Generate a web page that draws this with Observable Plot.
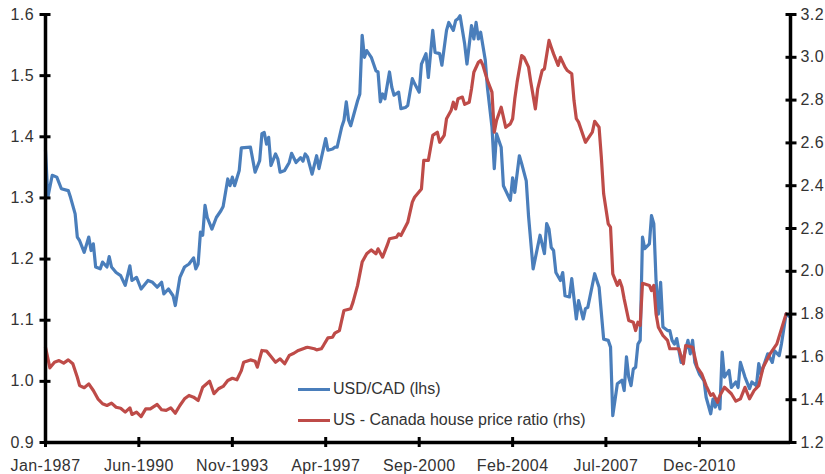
<!DOCTYPE html>
<html>
<head>
<meta charset="utf-8">
<script src="https://cdn.jsdelivr.net/npm/d3@7"></script>
<script src="https://cdn.jsdelivr.net/npm/@observablehq/plot@0.6"></script>
<style>
  body { margin: 0; background: #fff; }
  #wrap { position: relative; width: 825px; height: 474px; }
  .legend-item { position: absolute; display: flex; align-items: center; white-space: nowrap;
    font: 16px "Liberation Sans", Arial, sans-serif; color: #333; }
  .swatch { width: 32px; height: 3px; margin-right: 3px; }
</style>
</head>
<body>
<div id="wrap"></div>
<script>
// ---- Data ----
const usdcadDates = ["1987-01","1987-02","1987-04","1987-06","1987-08","1987-11","1987-12","1988-02","1988-03","1988-04",
"1988-06","1988-08","1988-09","1988-10","1988-11","1989-01","1989-02","1989-04","1989-05","1989-06",
"1989-08","1989-10","1989-12","1990-02","1990-03","1990-05","1990-07","1990-10","1990-12","1991-02",
"1991-04","1991-05","1991-07","1991-09","1991-10","1991-12","1992-02","1992-04","1992-06","1992-07",
"1992-08","1992-09","1992-10","1992-11","1992-12","1993-02","1993-04","1993-06","1993-07","1993-09",
"1993-10","1993-11","1993-12","1994-02","1994-03","1994-07","1994-09","1994-11","1994-12","1995-01",
"1995-02","1995-03","1995-04","1995-06","1995-07","1995-08","1995-10","1995-12","1996-01","1996-03",
"1996-05","1996-06","1996-07","1996-08","1996-10","1996-12","1997-01","1997-04","1997-05","1997-07",
"1997-08","1997-09","1997-11","1997-12","1998-01","1998-02","1998-03","1998-06","1998-07","1998-08",
"1998-09","1998-10","1998-12","1999-02","1999-03","1999-04","1999-05","1999-06","1999-08","1999-09",
"1999-10","1999-12","2000-01","2000-03","2000-04","2000-06","2000-07","2000-09","2000-10","2000-12",
"2001-01","2001-03","2001-04","2001-06","2001-07","2001-09","2001-10","2001-12","2002-01","2002-02",
"2002-03","2002-05","2002-06","2002-08","2002-09","2002-10","2002-11","2002-12","2003-02","2003-03",
"2003-05","2003-06","2003-07","2003-09","2003-10","2004-01","2004-02","2004-03","2004-05","2004-06",
"2004-08","2004-09","2004-11","2005-02","2005-04","2005-05","2005-06","2005-07","2005-08","2005-09",
"2005-11","2005-12","2006-01","2006-03","2006-04","2006-06","2006-07","2006-09","2006-10","2006-11",
"2007-02","2007-04","2007-06","2007-08","2007-09","2007-10","2007-12","2008-01","2008-02","2008-03",
"2008-04","2008-05","2008-06","2008-07","2008-08","2008-09","2008-10","2008-11","2008-12","2009-02",
"2009-03","2009-04","2009-05","2009-06","2009-07","2009-08","2009-10","2009-11","2009-12","2010-01",
"2010-02","2010-04","2010-05","2010-07","2010-08","2010-09","2010-10","2010-12","2011-02","2011-03",
"2011-05","2011-06","2011-07","2011-08","2011-09","2011-10","2011-11","2012-01","2012-02","2012-04",
"2012-05","2012-06","2012-08","2012-10","2012-11","2013-01","2013-02","2013-03","2013-06","2013-08",
"2013-09","2013-11","2013-12","2014-02","2014-04"];
const usdcadValues = [1.378,1.301,1.337,1.334,1.315,1.312,1.301,1.274,1.236,1.230,
1.211,1.236,1.214,1.225,1.187,1.184,1.195,1.187,1.204,1.187,
1.178,1.173,1.157,1.189,1.165,1.170,1.151,1.165,1.162,1.154,
1.162,1.143,1.151,1.140,1.124,1.170,1.187,1.192,1.202,1.184,
1.192,1.244,1.239,1.288,1.268,1.249,1.268,1.279,1.286,1.331,
1.320,1.334,1.320,1.345,1.382,1.383,1.342,1.361,1.405,1.407,
1.388,1.399,1.353,1.372,1.364,1.342,1.345,1.358,1.373,1.358,
1.366,1.360,1.372,1.367,1.339,1.369,1.348,1.397,1.378,1.380,
1.383,1.383,1.416,1.427,1.457,1.427,1.418,1.459,1.470,1.566,
1.530,1.541,1.530,1.508,1.506,1.457,1.470,1.462,1.506,1.481,
1.468,1.473,1.446,1.448,1.451,1.495,1.487,1.473,1.519,1.536,
1.497,1.574,1.538,1.536,1.517,1.574,1.587,1.574,1.590,1.593,
1.598,1.552,1.519,1.582,1.560,1.587,1.560,1.571,1.525,1.481,
1.416,1.348,1.405,1.383,1.320,1.296,1.333,1.309,1.369,1.356,
1.328,1.270,1.184,1.239,1.209,1.258,1.249,1.219,1.214,1.178,
1.165,1.178,1.140,1.138,1.168,1.102,1.132,1.102,1.119,1.121,
1.176,1.154,1.069,1.067,1.056,0.944,0.996,0.999,1.002,0.985,
1.040,1.007,0.993,1.020,1.023,1.061,1.067,1.236,1.217,1.225,
1.271,1.258,1.165,1.110,1.162,1.089,1.083,1.083,1.067,1.061,
1.070,1.031,1.037,1.067,1.045,1.067,1.031,1.012,1.001,0.974,
0.947,0.971,0.958,0.971,0.955,1.048,1.007,1.018,0.990,0.999,
0.990,1.031,1.007,0.988,0.999,0.993,1.029,1.012,1.045,1.031,
1.050,1.042,1.061,1.110,1.105];

const ratioDates = ["1987-01","1987-03","1987-05","1987-07","1987-09","1987-11","1988-01","1988-03","1988-04","1988-06",
"1988-08","1988-10","1988-12","1989-02","1989-04","1989-06","1989-08","1989-10","1989-12","1990-02",
"1990-03","1990-05","1990-07","1990-09","1990-11","1991-02","1991-04","1991-06","1991-08","1991-10",
"1991-12","1992-02","1992-04","1992-06","1992-08","1992-10","1993-01","1993-03","1993-05","1993-07",
"1993-09","1993-11","1994-01","1994-03","1994-04","1994-07","1994-09","1994-10","1994-12","1995-02",
"1995-04","1995-06","1995-08","1995-10","1995-12","1996-02","1996-04","1996-07","1996-08","1996-11",
"1996-12","1997-02","1997-03","1997-05","1997-07","1997-08","1997-10","1997-12","1998-03","1998-04",
"1998-06","1998-08","1998-10","1998-12","1999-02","1999-03","1999-05","1999-07","1999-08","1999-11",
"1999-12","2000-01","2000-04","2000-06","2000-07","2000-10","2000-11","2001-01","2001-03","2001-05",
"2001-06","2001-08","2001-09","2001-11","2001-12","2002-01","2002-02","2002-04","2002-05","2002-07",
"2002-08","2002-09","2002-11","2002-12","2003-01","2003-03","2003-05","2003-06","2003-07","2003-09",
"2003-11","2004-01","2004-02","2004-03","2004-04","2004-06","2004-07","2004-09","2004-10","2004-12",
"2005-01","2005-03","2005-04","2005-06","2005-07","2005-08","2005-10","2005-11","2006-01","2006-02",
"2006-04","2006-05","2006-06","2006-07","2006-10","2006-11","2007-01","2007-02","2007-04","2007-05",
"2007-06","2007-08","2007-09","2007-10","2007-12","2008-01","2008-02","2008-03","2008-05","2008-07",
"2008-08","2008-09","2008-10","2008-11","2009-02","2009-03","2009-04","2009-05","2009-06","2009-08",
"2009-10","2009-11","2010-01","2010-03","2010-05","2010-06","2010-09","2010-11","2011-01","2011-03",
"2011-05","2011-06","2011-08","2011-09","2011-11","2012-02","2012-04","2012-06","2012-08","2012-10",
"2012-12","2013-02","2013-04","2013-07","2013-10","2014-02"];
const ratioValues = [1.645,1.549,1.575,1.583,1.571,1.586,1.568,1.505,1.466,1.456,
1.474,1.443,1.404,1.381,1.373,1.384,1.365,1.360,1.342,1.362,
1.331,1.342,1.321,1.357,1.357,1.378,1.353,1.350,1.362,1.337,
1.373,1.404,1.420,1.412,1.396,1.458,1.486,1.428,1.451,1.462,
1.490,1.500,1.493,1.536,1.575,1.586,1.580,1.552,1.630,1.627,
1.602,1.575,1.591,1.568,1.607,1.617,1.630,1.642,1.645,1.638,
1.633,1.638,1.653,1.689,1.692,1.711,1.723,1.817,1.825,1.856,
1.934,2.043,2.082,2.100,2.082,2.105,2.066,2.121,2.152,2.159,
2.175,2.167,2.229,2.323,2.346,2.385,2.518,2.518,2.635,2.650,
2.603,2.635,2.713,2.751,2.790,2.759,2.806,2.814,2.780,2.790,
2.853,2.930,2.977,2.985,2.962,2.892,2.837,2.650,2.705,2.767,
2.673,2.689,2.713,2.806,2.884,3.008,3.000,2.954,2.884,2.759,
2.853,2.938,2.946,3.079,3.047,3.016,2.962,3.000,2.954,2.938,
2.923,2.798,2.713,2.697,2.603,2.619,2.650,2.701,2.673,2.533,
2.362,2.222,2.206,1.988,1.934,1.957,1.926,1.871,1.770,1.762,
1.723,1.762,1.747,1.944,1.934,1.910,1.934,1.801,1.739,1.700,
1.677,1.638,1.638,1.638,1.568,1.653,1.645,1.552,1.521,1.466,
1.420,1.428,1.388,1.420,1.458,1.428,1.393,1.404,1.458,1.404,
1.443,1.466,1.552,1.614,1.661,1.801];

const xTickLabels = ["Jan-1987","Jun-1990","Nov-1993","Apr-1997","Sep-2000","Feb-2004","Jul-2007","Dec-2010"];
const leftTicks = [0.9, 1.0, 1.1, 1.2, 1.3, 1.4, 1.5, 1.6];
const rightTicks = [1.2, 1.4, 1.6, 1.8, 2.0, 2.2, 2.4, 2.6, 2.8, 3.0, 3.2];
const seriesNames = ["USD/CAD (lhs)", "US - Canada house price ratio (rhs)"];
const seriesColors = ["#4a7ebb", "#be4b48"];
const xStart = "1987-01", xEnd = "2014-04";

// ---- Build ----
const parseMonth = d3.utcParse("%Y-%m");
const parseTick = d3.utcParse("%b-%Y");
const fmtTick = d3.utcFormat("%b-%Y");
const usdcad = usdcadDates.map((d, i) => ({date: parseMonth(d), value: usdcadValues[i]}));
const ratio = ratioDates.map((d, i) => ({date: parseMonth(d), value: ratioValues[i]}));
const leftDomain = [0.9, 1.6], rightDomain = [1.2, 3.2];
const toLeft = d3.scaleLinear(rightDomain, leftDomain);
const x0 = parseMonth(xStart), x1 = parseMonth(xEnd);
const axisColor = "#000";
const font = "'Liberation Sans', Arial, sans-serif";

const chart = Plot.plot({
  width: 825,
  height: 474,
  marginLeft: 45,
  marginRight: 35,
  marginTop: 14,
  marginBottom: 32,
  style: {fontFamily: font, fontSize: "16px", color: "#333", background: "#fff", letterSpacing: "0.4px"},
  x: {type: "utc", domain: [x0, x1], axis: null},
  y: {domain: leftDomain, axis: null},
  marks: [
    Plot.line(usdcad, {x: "date", y: "value", stroke: seriesColors[0], strokeWidth: 3.2, strokeLinejoin: "round"}),
    Plot.line(ratio, {x: "date", y: d => toLeft(d.value), stroke: seriesColors[1], strokeWidth: 3.2, strokeLinejoin: "round"}),
    Plot.ruleX([x0], {stroke: axisColor, strokeWidth: 3.5}),
    Plot.ruleX([x1], {stroke: axisColor, strokeWidth: 3.5}),
    Plot.ruleY([leftDomain[0]], {stroke: axisColor, strokeWidth: 3.5}),
    Plot.axisY(leftTicks, {anchor: "left", label: null, tickSize: 11, dx: 5.5, tickPadding: 6,
      stroke: axisColor, strokeWidth: 3, fill: "#333", tickFormat: d => d.toFixed(1)}),
    Plot.axisY(rightTicks, {anchor: "right", label: null, y: d => toLeft(d), text: d => d.toFixed(1),
      tickSize: 11, dx: -5.5, tickPadding: 4.5, stroke: axisColor, strokeWidth: 3, fill: "#333"}),
    Plot.axisX(xTickLabels.map(parseTick), {anchor: "bottom", label: null, tickSize: 10, dy: -5, tickPadding: 12,
      stroke: axisColor, strokeWidth: 3, fill: "#333", tickFormat: fmtTick})
  ]
});

const wrap = document.getElementById("wrap");
wrap.appendChild(chart);

// Legend (inside the plot area, as in the reference)
const legendTops = [389, 420];
seriesNames.forEach((name, i) => {
  const item = document.createElement("div");
  item.className = "legend-item";
  item.style.left = "298px";
  item.style.top = (legendTops[i] - 10) + "px";
  item.style.height = "20px";
  const sw = document.createElement("span");
  sw.className = "swatch";
  sw.style.background = seriesColors[i];
  const label = document.createElement("span");
  label.textContent = name;
  item.appendChild(sw);
  item.appendChild(label);
  wrap.appendChild(item);
});
</script>
</body>
</html>
